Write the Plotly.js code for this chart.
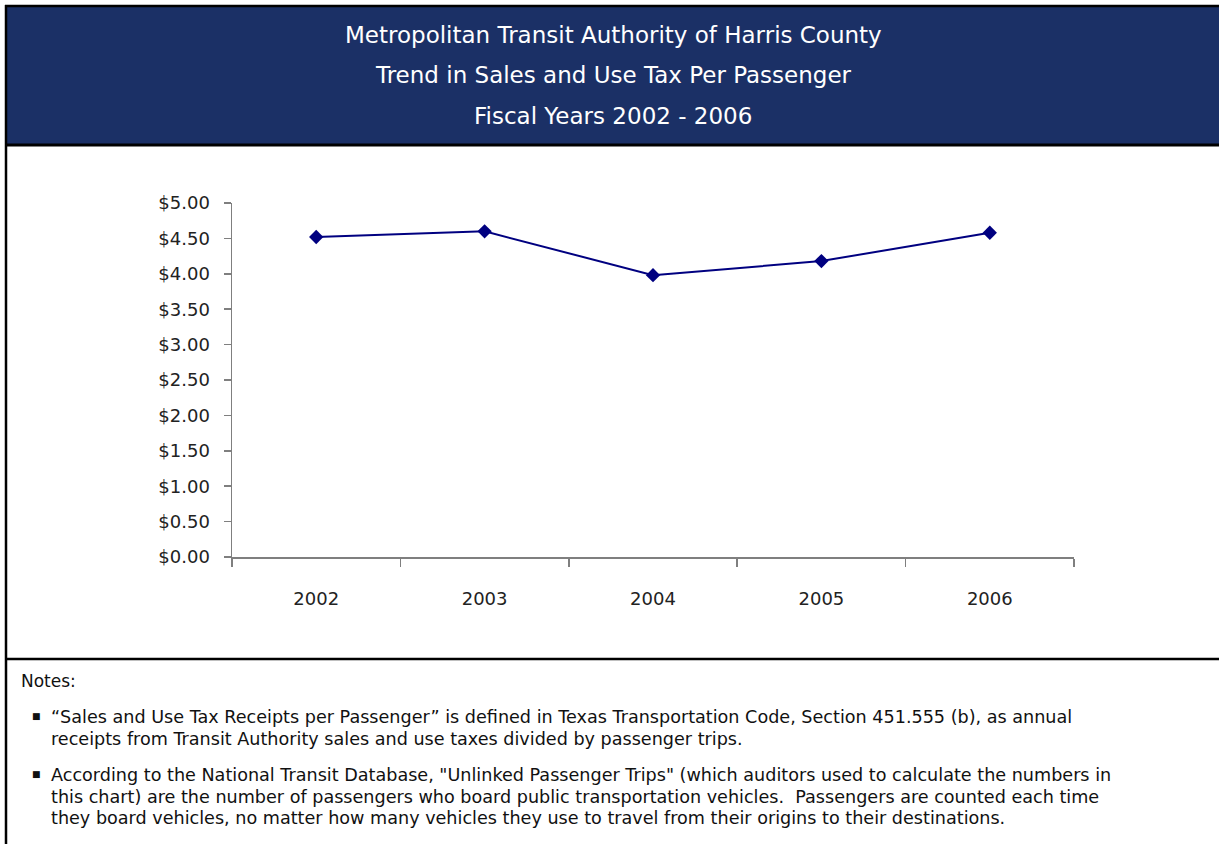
<!DOCTYPE html>
<html>
<head>
<meta charset="utf-8">
<script src="https://cdn.plot.ly/plotly-3.0.1.min.js"></script>
<style>html,body{margin:0;padding:0;background:#fff;}#chart{width:1219px;height:844px;}</style>
</head>
<body>
<div id="chart"></div>
<script>
// ---- data ----
const years = ["2002", "2003", "2004", "2005", "2006"];
const taxPerPassenger = [4.52, 4.60, 3.98, 4.18, 4.58];
const titleLines = [
  "Metropolitan Transit Authority of Harris County",
  "Trend in Sales and Use Tax Per Passenger",
  "Fiscal Years 2002 - 2006"
];
const notesHeader = "Notes:";
const noteLines = [
  ["\u201CSales and Use Tax Receipts per Passenger\u201D is defined in Texas Transportation Code, Section 451.555 (b), as annual",
   "receipts from Transit Authority sales and use taxes divided by passenger trips."],
  ["According to the National Transit Database, \"Unlinked Passenger Trips\" (which auditors used to calculate the numbers in",
   "this chart) are the number of passengers who board public transportation vehicles.  Passengers are counted each time",
   "they board vehicles, no matter how many vehicles they use to travel from their origins to their destinations."]
];

// ---- layout geometry (pixels) ----
const W = 1219, H = 844;
const M = {l: 232, r: W - 1074, t: 203, b: H - 557};
const PW = W - M.l - M.r, PH = H - M.t - M.b;
const px = X => (X - M.l) / PW;
const py = Y => (H - M.b - Y) / PH;

const FONT = "DejaVu Sans, Verdana, sans-serif";
const annotations = [];
const titleY = [35, 75, 116];
titleLines.forEach((t, i) => annotations.push({
  xref: "paper", yref: "paper", x: px(613), y: py(titleY[i]),
  xanchor: "center", yanchor: "middle", showarrow: false, text: t,
  font: {family: FONT, size: 23, color: "#ffffff"}
}));
annotations.push({
  xref: "paper", yref: "paper", x: px(19), y: py(681), xanchor: "left", yanchor: "middle",
  showarrow: false, text: notesHeader, font: {family: FONT, size: 17, color: "#111"}
});
const noteStart = [717, 775];
noteLines.forEach((lines, i) => {
  annotations.push({
    xref: "paper", yref: "paper", x: px(36), y: py(noteStart[i] - 1), xanchor: "center", yanchor: "middle",
    showarrow: false, text: "\u25A0", font: {family: "DejaVu Sans", size: 9, color: "#111"}
  });
  lines.forEach((ln, j) => annotations.push({
    xref: "paper", yref: "paper", x: px(49), y: py(noteStart[i] + j * 21.5), xanchor: "left", yanchor: "middle",
    showarrow: false, text: ln, font: {family: FONT, size: 17.6, color: "#111"}
  }));
});

const shapes = [
  {type: "rect", xref: "paper", yref: "paper", x0: px(6), x1: px(1230), y0: py(6), y1: py(145),
   fillcolor: "#1b3066", line: {width: 0}, layer: "below"},
  {type: "line", xref: "paper", yref: "paper", x0: px(5), x1: px(1230), y0: py(6), y1: py(6), line: {color: "#000", width: 2.5}},
  {type: "line", xref: "paper", yref: "paper", x0: px(6), x1: px(6), y0: py(5), y1: py(850), line: {color: "#000", width: 2.5}},
  {type: "line", xref: "paper", yref: "paper", x0: px(5), x1: px(1230), y0: py(145), y1: py(145), line: {color: "#000", width: 3}},
  {type: "line", xref: "paper", yref: "paper", x0: px(5), x1: px(1230), y0: py(659), y1: py(659), line: {color: "#000", width: 2.5}}
];

const trace = {
  x: years, y: taxPerPassenger, type: "scatter", mode: "lines+markers",
  line: {color: "#000080", width: 2},
  marker: {symbol: "diamond", size: 11, color: "#000080"},
  hoverinfo: "skip"
};

const layout = {
  width: W, height: H, margin: M, showlegend: false,
  paper_bgcolor: "#fff", plot_bgcolor: "#fff",
  font: {family: FONT, size: 18, color: "#222"},
  xaxis: {
    type: "category", range: [-0.5, 4.5], showgrid: false, zeroline: false,
    showline: true, linecolor: "#7f7f7f", linewidth: 1.5,
    ticks: "outside", tickson: "boundaries", ticklen: 8, tickcolor: "#7f7f7f", tickwidth: 1.5,
    ticklabelstandoff: 25, tickfont: {family: FONT, size: 18, color: "#222"}, fixedrange: true
  },
  yaxis: {
    range: [0, 5], dtick: 0.5, tick0: 0, tickprefix: "$", tickformat: ".2f",
    showgrid: false, zeroline: false, showline: true, linecolor: "#7f7f7f", linewidth: 1.5,
    ticks: "outside", ticklen: 7, tickcolor: "#7f7f7f", tickwidth: 1.5,
    ticklabelstandoff: 10, tickfont: {family: FONT, size: 18, color: "#222"}, fixedrange: true
  },
  shapes: shapes,
  annotations: annotations
};

Plotly.newPlot("chart", [trace], layout, {displayModeBar: false, staticPlot: true});
</script>
</body>
</html>
